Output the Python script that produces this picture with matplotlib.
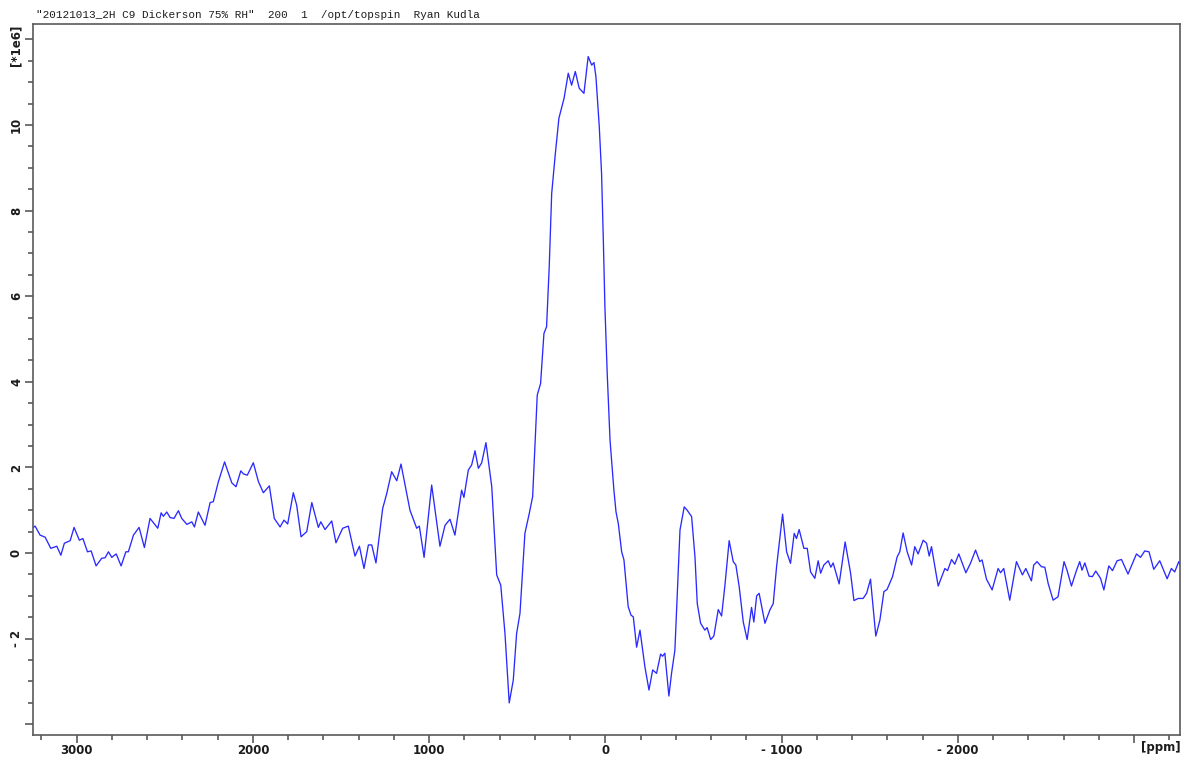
import matplotlib
matplotlib.use("Agg")
import matplotlib.pyplot as plt
from matplotlib.ticker import MultipleLocator, FuncFormatter

TITLE = '"20121013_2H C9 Dickerson 75% RH"  200  1  /opt/topspin  Ryan Kudla'
Y_UNIT = "[*1e6]"
X_UNIT = "[ppm]"

# chemical shift (ppm)
ppm = [
    3246, 3236, 3208, 3179, 3147, 3113, 3090, 3070, 3037, 3015,
    2985, 2965, 2939, 2918, 2890, 2858, 2839, 2820, 2801, 2776,
    2748, 2721, 2707, 2678, 2646, 2616, 2584, 2561, 2540, 2521,
    2508, 2489, 2470, 2448, 2423, 2404, 2375, 2347, 2332, 2310,
    2272, 2243, 2225, 2196, 2161,
    2120, 2096, 2069, 2054, 2032, 1998, 1969, 1941, 1907, 1879,
    1846, 1824, 1803, 1771, 1752, 1727, 1695, 1666, 1629, 1615,
    1591, 1553, 1529, 1491, 1459, 1421, 1396, 1370, 1345, 1326,
    1302, 1264, 1241, 1213, 1184, 1160, 1109, 1071, 1056,
    1029, 986, 939, 910, 882, 854, 816, 803, 778, 759,
    740, 721, 702, 678, 645, 617, 594, 570, 546, 523,
    504, 485, 457, 432, 413, 400,
    387, 368, 349, 334, 319, 305, 286, 264, 235, 211,
    192, 171, 149, 122, 98, 78, 65, 54, 35, 22,
    12, 3, -10, -26,
    -48, -60, -73, -92, -105, -129, -145, -158, -177, -196,
    -224, -247, -268, -290, -313, -324, -337, -360, -375, -394,
    -423, -447, -464, -489, -508, -521, -540, -564, -577, -597,
    -615, -640, -659, -678, -702, -725, -740, -759, -782, -804,
    -829, -842, -858, -872,
    -905, -933, -952, -971, -1005, -1028, -1050, -1071, -1084, -1099,
    -1126, -1145, -1164, -1188, -1207, -1221, -1239, -1264, -1279, -1292,
    -1326, -1360, -1391, -1410, -1434, -1462, -1482, -1504, -1534, -1557,
    -1580, -1598, -1629, -1655,
    -1670, -1689, -1712, -1737, -1755, -1774, -1803, -1822, -1837, -1850,
    -1888, -1926, -1941, -1964, -1982, -2005, -2045, -2071, -2100, -2124,
    -2137, -2162, -2194, -2228, -2242, -2260, -2294, -2332, -2366, -2385,
    -2417,
    -2430, -2449, -2474, -2493, -2512, -2540, -2568, -2602, -2619, -2644,
    -2673, -2691, -2704, -2720, -2744, -2763, -2782, -2809, -2828, -2856,
    -2877, -2903, -2928, -2965, -3013, -3036, -3060, -3084, -3111, -3145,
    -3187, -3211, -3230, -3253, -3268,
]

# intensity in units of 1e6
intensity = [
    0.60, 0.63, 0.42, 0.37, 0.11, 0.16, -0.05, 0.23, 0.29, 0.60,
    0.30, 0.34, 0.03, 0.05, -0.30, -0.12, -0.11, 0.03, -0.10, -0.02,
    -0.30, 0.03, 0.03, 0.42, 0.60, 0.13, 0.81, 0.69, 0.58, 0.94,
    0.86, 0.96, 0.83, 0.81, 0.99, 0.81, 0.67, 0.73, 0.61, 0.96,
    0.65, 1.18, 1.20, 1.67, 2.13,
    1.64, 1.55, 1.92, 1.85, 1.82, 2.11, 1.67, 1.41, 1.57, 0.81,
    0.61, 0.77, 0.68, 1.41, 1.12, 0.38, 0.50, 1.18, 0.60, 0.73,
    0.55, 0.75, 0.24, 0.58, 0.63, -0.07, 0.16, -0.36, 0.19, 0.19,
    -0.23, 1.04, 1.39, 1.90, 1.69, 2.08, 1.00, 0.58, 0.63,
    -0.10, 1.59, 0.16, 0.65, 0.79, 0.42, 1.47, 1.30, 1.94, 2.06,
    2.39, 1.98, 2.11, 2.58, 1.55, -0.51, -0.75, -1.88, -3.50, -2.97,
    -1.88, -1.41, 0.46, 0.93, 1.32, 2.52,
    3.69, 3.96, 5.13, 5.29, 6.69, 8.40, 9.26, 10.16, 10.62, 11.21,
    10.93, 11.25, 10.86, 10.74, 11.60, 11.40, 11.46, 11.13, 9.96, 8.87,
    7.31, 5.75, 4.20, 2.64,
    1.47, 0.96, 0.69, 0.03, -0.16, -1.25, -1.45, -1.49, -2.20, -1.80,
    -2.66, -3.20, -2.73, -2.81, -2.36, -2.41, -2.34, -3.34, -2.81, -2.27,
    0.54, 1.08, 1.00, 0.85, -0.09, -1.18, -1.64, -1.80, -1.74, -2.02,
    -1.94, -1.32, -1.47, -0.75, 0.29, -0.20, -0.28, -0.79, -1.61, -2.02,
    -1.27, -1.61, -1.00, -0.94,
    -1.64, -1.33, -1.18, -0.32, 0.91, 0.03, -0.24, 0.46, 0.34, 0.55,
    0.11, 0.11, -0.44, -0.59, -0.18, -0.47, -0.28, -0.18, -0.33, -0.23,
    -0.72, 0.26, -0.47, -1.11, -1.06, -1.06, -0.94, -0.61, -1.94, -1.57,
    -0.90, -0.85, -0.55, -0.09,
    0.03, 0.47, 0.03, -0.28, 0.15, -0.02, 0.30, 0.23, -0.07, 0.15,
    -0.77, -0.36, -0.41, -0.15, -0.26, -0.02, -0.46, -0.24, 0.07, -0.20,
    -0.16, -0.61, -0.86, -0.36, -0.46, -0.36, -1.10, -0.20, -0.51, -0.36,
    -0.65,
    -0.28, -0.20, -0.32, -0.33, -0.71, -1.10, -1.02, -0.20, -0.40, -0.77,
    -0.40, -0.20, -0.40, -0.23, -0.54, -0.55, -0.42, -0.59, -0.86, -0.30,
    -0.41, -0.18, -0.15, -0.49, -0.02, -0.10, 0.05, 0.03, -0.38, -0.18,
    -0.60, -0.36, -0.44, -0.20, -0.36,
]

# tick values whose label is left blank (unit labels sit there instead)
X_SKIP = [-3000]
Y_SKIP = [12, -4]

AX_COL = "#5a5a5a"
TXT_COL = "#1c1c1c"


def fmt(skip):
    def f(v, pos):
        v = int(round(v))
        if v in skip:
            return ""
        return f"- {abs(v)}" if v < 0 else f"{v}"
    return FuncFormatter(f)


fig = plt.figure(figsize=(11.84, 7.6), dpi=100)
ax = fig.add_axes([33 / 1184, 25 / 760, (1180 - 33) / 1184, (736 - 25) / 760])

ax.plot(ppm, intensity, color="#2a2aff", lw=0.95, solid_joinstyle="round")

ax.set_xlim(3248, -3260)
ax.set_ylim(-4.25, 12.36)

ax.xaxis.set_major_locator(MultipleLocator(1000))
ax.xaxis.set_minor_locator(MultipleLocator(200))
ax.yaxis.set_major_locator(MultipleLocator(2))
ax.yaxis.set_minor_locator(MultipleLocator(0.5))
ax.xaxis.set_major_formatter(fmt(X_SKIP))
ax.yaxis.set_major_formatter(fmt(Y_SKIP))

ax.tick_params(which="major", length=6, width=1.2, color=AX_COL, direction="out")
ax.tick_params(which="minor", length=3.5, width=1.2, color=AX_COL, direction="out")
ax.tick_params(axis="x", which="major", pad=0.5)
ax.tick_params(axis="y", which="major", pad=1.2)
for lab in ax.get_xticklabels() + ax.get_yticklabels():
    lab.set_fontweight("bold")
    lab.set_fontsize(8.5)
    lab.set_color(TXT_COL)
for lab in ax.get_yticklabels():
    lab.set_rotation(90)
    lab.set_va("center")

for s in ax.spines.values():
    s.set_color(AX_COL)
    s.set_linewidth(1.2)

fig.text(36 / 1184, 1 - 15 / 760, TITLE, family="Liberation Mono", fontsize=7.9,
         color=TXT_COL, ha="left", va="center")
fig.text(16 / 1184, 1 - 45 / 760, Y_UNIT, rotation=90, fontsize=8.5, fontweight="bold",
         color=TXT_COL, ha="center", va="center")
fig.text(1161 / 1184, 1 - 748 / 760, X_UNIT, fontsize=8.5, fontweight="bold",
         color=TXT_COL, ha="center", va="center")

fig.savefig("out.png", dpi=100, facecolor="white")
